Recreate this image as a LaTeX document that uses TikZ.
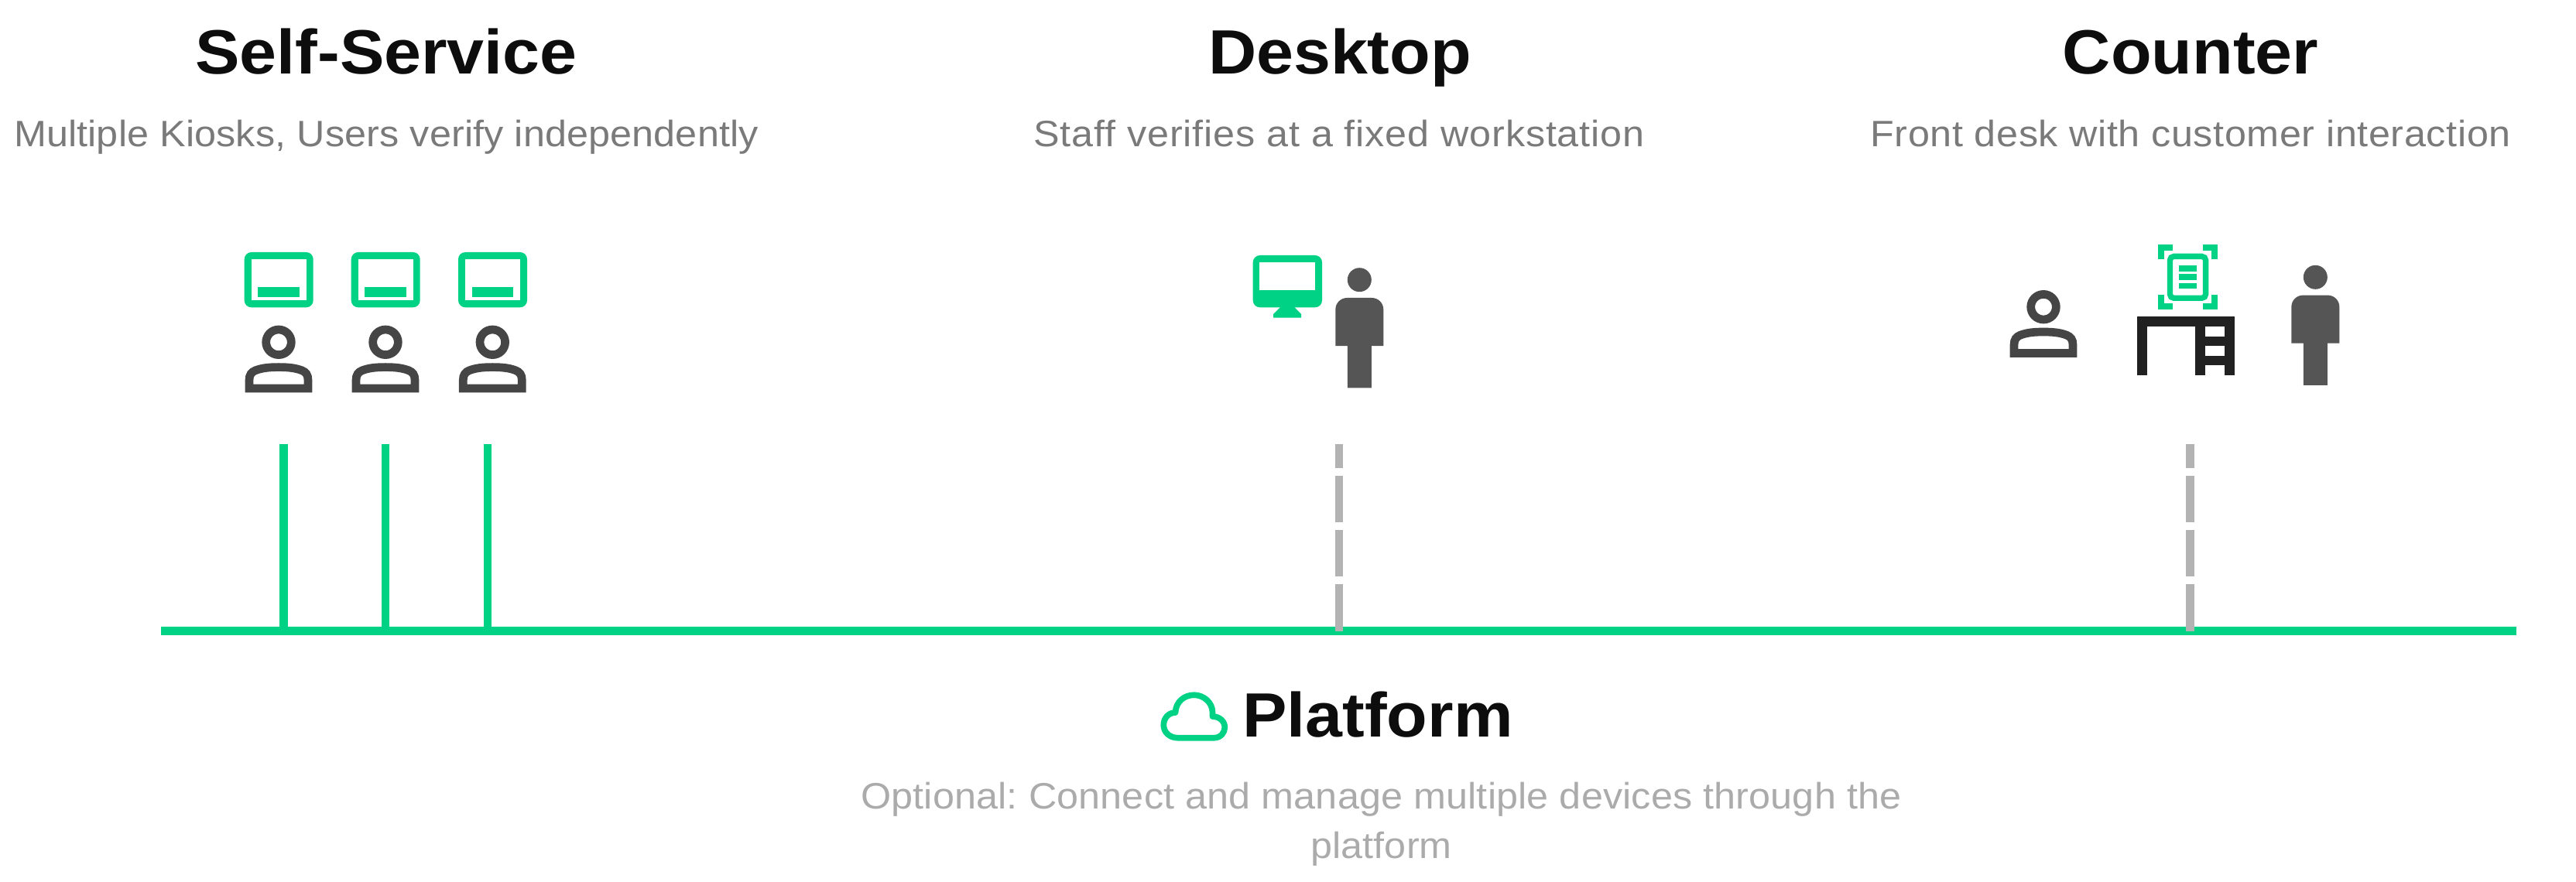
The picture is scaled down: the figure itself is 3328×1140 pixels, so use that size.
\documentclass[tikz,border=0pt]{standalone}
\usepackage{fontspec}
\setmainfont{Liberation Sans}
\newfontfamily\headfont[FakeStretch=1.065]{Liberation Sans}
\newfontfamily\subfont[FakeStretch=1.06,LetterSpace=0.3]{Liberation Sans}
\newfontfamily\deskfont[FakeStretch=1.06,LetterSpace=1.8]{Liberation Sans}
\newfontfamily\countfont[FakeStretch=1.06,LetterSpace=1.3]{Liberation Sans}
\frenchspacing
\definecolor{brandgreen}{HTML}{00D285}
\definecolor{headink}{HTML}{0D0D0D}
\definecolor{subgray}{HTML}{7A7A7A}
\definecolor{optgray}{HTML}{ABABAB}
\definecolor{dashgray}{HTML}{B3B3B3}
\definecolor{useink}{HTML}{454545}
\definecolor{staffink}{HTML}{555555}
\definecolor{deskink}{HTML}{212121}
\tikzset{
  heading/.style={anchor=base, inner sep=0pt, text=headink, font=\headfont\bfseries\fontsize{23pt}{28pt}\selectfont},
  subline/.style={anchor=base, inner sep=0pt, text=subgray, font=\subfont\fontsize{13.5pt}{18.2pt}\selectfont},
  optline/.style={anchor=base, inner sep=0pt, text=optgray, align=center, font=\subfont\fontsize{13.5pt}{18.14pt}\selectfont},
  solidlink/.style={draw=brandgreen, line width=1.03mm},
  dashlink/.style={draw=dashgray, line width=1.03mm, dash pattern=on 6mm off 1mm},
  pics/kiosk/.style={code={
    \fill[brandgreen, rounded corners=0.9mm] (0,0) rectangle (89,71.3);
    \fill[white] (9,9) rectangle (80,62.3);
    \fill[brandgreen] (17.6,44.7) rectangle (71.3,58);
  }},
  pics/userbust/.style={code={
    \draw[useink, line width=1.07mm] (0,0) circle (16.3);
    \draw[useink, line width=1.07mm, line join=miter] (-38,59.7) -- (-38,49)
      .. controls (-38,42) and (-35,38.5) .. (-30,36.5)
      .. controls (-21,33) and (-11,32.3) .. (0,32.3)
      .. controls (11,32.3) and (21,33) .. (30,36.5)
      .. controls (35,38.5) and (38,42) .. (38,49) -- (38,59.7) -- cycle;
  }},
  pics/staff/.style={code={
    \fill[staffink] (0,0) circle (15.5);
    \fill[staffink] (-31,85.3) -- (-31,38.3) .. controls (-31,30) and (-24.3,23.3) .. (-16,23.3)
      -- (16,23.3) .. controls (24.3,23.3) and (31,30) .. (31,38.3)
      -- (31,85.3) -- (15.5,85.3) -- (15.5,139.6) -- (-15.5,139.6) -- (-15.5,85.3) -- cycle;
  }}
}
\begin{document}
\begin{tikzpicture}[x=0.01cm, y=-0.01cm]
    \useasboundingbox (0,0) rectangle (3328,1140);
    % column titles
    \node[heading] (selfT) at (499,96) {Self-Service};
    \node[subline] (selfS) at (499,190) {Multiple Kiosks, Users verify independently};
    \node[heading] (deskT) at (1731,96) {Desktop};
    \node[subline] (deskS) at (1730,190) {\deskfont Staff verifies at a fixed workstation};
    \node[heading] (countT) at (2830,96) {Counter};
    \node[subline] (countS) at (2830,190) {\countfont Front desk with customer interaction};
    % self service icons
    \foreach \kx/\ux in {315.7/360, 453.7/498, 592/636.3} {
        \pic at (\kx,326) {kiosk};
        \pic at (\ux,442.3) {userbust};
    }
    % desktop icons
    \fill[brandgreen, rounded corners=0.9mm] (1618.7,330) rectangle (1708,397.3);
    \fill[white] (1627.3,339) rectangle (1699.3,374.7);
    \fill[brandgreen] (1654,397) -- (1672.3,397) -- (1681,406) -- (1681,410.7) -- (1645,410.7) -- (1645,406) -- cycle;
    \pic at (1756.3,361.7) {staff};
    % counter icons
    \pic at (2640,396.7) {userbust};
    \draw[brandgreen, line width=0.8mm] (2792,335) -- (2792,320) -- (2807,320);
    \draw[brandgreen, line width=0.8mm] (2845.7,320) -- (2860.7,320) -- (2860.7,335);
    \draw[brandgreen, line width=0.8mm] (2792,381) -- (2792,396) -- (2807,396);
    \draw[brandgreen, line width=0.8mm] (2845.7,396) -- (2860.7,396) -- (2860.7,381);
    \draw[brandgreen, line width=0.73mm, rounded corners=0.5mm] (2803.4,331.4) rectangle (2849.6,385.3);
    \fill[brandgreen] (2815,343) rectangle (2838,350.7);
    \fill[brandgreen] (2815,354.3) rectangle (2838,362);
    \fill[brandgreen] (2815,366) rectangle (2838,373.3);
    \fill[deskink] (2761.3,409.3) rectangle (2886.7,422);
    \fill[deskink] (2761.3,409.3) rectangle (2774,484.7);
    \fill[deskink] (2836.3,409.3) rectangle (2849,484.7);
    \fill[deskink] (2874,409.3) rectangle (2886.7,484.7);
    \fill[deskink] (2836.3,434.7) rectangle (2886.7,447);
    \fill[deskink] (2836.3,459.7) rectangle (2886.7,472);
    \pic at (2991.3,358.3) {staff};
    % connectors
    \coordinate (busL) at (208.3,815.5);
    \coordinate (busR) at (3251,815.5);
    \coordinate (kioskA) at (366.5,574);
    \coordinate (kioskB) at (498,574);
    \coordinate (kioskC) at (630,574);
    \coordinate (deskTop) at (1730,574);
    \coordinate (countTop) at (2829.5,574);
    \draw[solidlink] (busL) -- (busR);
    \draw[solidlink] (kioskA) -- (kioskA |- busL);
    \draw[solidlink] (kioskB) -- (kioskB |- busL);
    \draw[solidlink] (kioskC) -- (kioskC |- busL);
    \draw[dashlink] (deskTop |- busL) -- (deskTop);
    \draw[dashlink] (countTop |- busL) -- (countTop);
    % platform
    \draw[brandgreen, line width=0.77mm, line join=round] (1521.7,953.7) -- (1568.3,953.7)
      .. controls (1577,953.7) and (1582.3,947) .. (1582.3,940)
      .. controls (1582.3,932) and (1575,926) .. (1566.5,926) -- (1566.5,921)
      .. controls (1566.5,908) and (1555,898.3) .. (1542.7,898.3)
      .. controls (1530,898.3) and (1519,907) .. (1518.5,921)
      .. controls (1509,921) and (1503.3,929) .. (1503.3,937)
      .. controls (1503.3,946.5) and (1511,953.7) .. (1521.7,953.7) -- cycle;
    \node[heading] (platT) at (1780,952.7) {Platform};
    \node[optline] (platS) at (1784.5,1109) {Optional: Connect and manage multiple devices through the\\platform};
\end{tikzpicture}
\end{document}
